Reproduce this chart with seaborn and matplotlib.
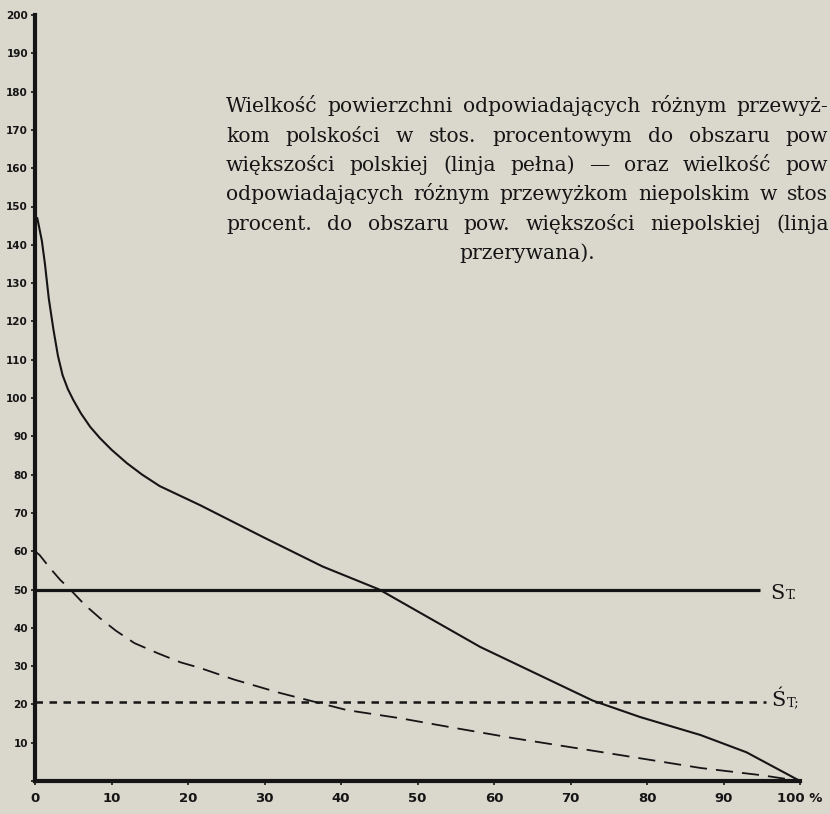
import matplotlib
matplotlib.use("Agg")
import matplotlib.pyplot as plt
import pandas as pd
import seaborn as sns

# ---------------- data ----------------
polish_x = [0.3, 0.9, 1.3, 1.8, 2.4, 3.0, 3.6, 4.3, 5.0, 6.0, 7.2, 8.5, 10, 12, 14, 16.3,
            21.6, 30, 37.6, 45, 58.2, 72.9, 79.1, 87, 93, 100]
polish_y = [147, 141, 135, 126, 118, 111, 106, 102.3, 99.5, 96, 92.5, 89.5, 86.5, 83, 80, 77,
            72, 63.5, 56, 50, 35, 21, 16.7, 12, 7.5, 0]

nonpolish_x = [0, 0, 0.6, 2, 3.3, 4.6, 6.5, 8.5, 10.6, 13, 16, 19, 21.6, 26, 32, 40.8, 47.7,
               55, 62.5, 73.9, 87, 95, 100]
nonpolish_y = [64, 60, 59, 55.5, 52.5, 50, 46, 42.5, 39.2, 36, 33.4, 31, 29.5, 26.5, 23, 18.5,
               16.4, 13.8, 11.2, 7.6, 3.4, 1.5, 0]

x_ticks = [0, 10, 20, 30, 40, 50, 60, 70, 80, 90, 100]
x_tick_labels = ["0", "10", "20", "30", "40", "50", "60", "70", "80", "90", "100 %"]
y_ticks = [0, 10, 20, 30, 40, 50, 60, 70, 80, 90, 100, 110, 120, 130, 140, 150, 160, 170, 180, 190, 200]
y_tick_labels = ["", "10", "20", "30", "40", "50", "60", "70", "80", "90", "100", "110", "120",
                 "130", "140", "150", "160", "170", "180", "190", "200"]

st_level = 50
st_end = 94.8
st_label = ("S", "T.")
st_prime_level = 20.6
st_prime_end = 95.6
st_prime_label = ("Ś", "T;")

# caption as visible in the reference (cut at the right page edge)
title_lines = [
    "Wielkość powierzchni odpowiadających różnym przewyż-",
    "kom polskości w stos. procentowym do obszaru pow",
    "większości polskiej (linja pełna) — oraz wielkość pow",
    "odpowiadających różnym przewyżkom niepolskim w stos",
    "procent. do obszaru pow. większości niepolskiej (linja",
    "przerywana).",
]

# ---------------- style ----------------
W, H = 830, 814
PAPER = "#dad7cd"
INK = "#151515"

sns.set_theme(style="white")
plt.rcParams["font.family"] = ["DejaVu Serif", "DejaVu Sans"]

fig = plt.figure(figsize=(W / 100, H / 100), dpi=100, facecolor=PAPER)
ax = fig.add_axes([35 / W, 33 / H, 765 / W, 766 / H])
ax.set_facecolor(PAPER)

df_pol = pd.DataFrame({"x": polish_x, "y": polish_y})
df_non = pd.DataFrame({"x": nonpolish_x, "y": nonpolish_y})

sns.lineplot(data=df_pol, x="x", y="y", estimator=None, sort=False,
             color=INK, lw=1.5, ax=ax)
sns.lineplot(data=df_non, x="x", y="y", estimator=None, sort=False,
             color=INK, lw=1.3, linestyle=(6.0, (9.5, 5.0)), ax=ax)

ax.hlines(st_level, 0, st_end, color=INK, lw=2.3)
ax.hlines(st_prime_level, 0, st_prime_end, color=INK, lw=1.8,
          linestyles=[(0, (3.0, 2.6))])

ax.set_xlim(0, 100)
ax.set_ylim(0, 200)
ax.set_xlabel("")
ax.set_ylabel("")

for s in ["top", "right"]:
    ax.spines[s].set_visible(False)
for s in ["left", "bottom"]:
    ax.spines[s].set_linewidth(3.0)
    ax.spines[s].set_color(INK)

ax.set_xticks(x_ticks)
ax.set_xticklabels(x_tick_labels, fontfamily="DejaVu Sans", fontweight="bold",
                   fontsize=9.5, color=INK)
ax.set_yticks(y_ticks)
ax.set_yticklabels(y_tick_labels, fontfamily="DejaVu Sans", fontweight="bold",
                   fontsize=7.5, color=INK)
ax.tick_params(axis="y", direction="out", length=3, width=1.2, color=INK, pad=2, left=True)
ax.tick_params(axis="x", direction="out", length=3, width=1.2, color=INK, pad=5, bottom=True)

# St labels (baseline aligned)
ax.text(st_end + 1.3, st_level - 2.6, st_label[0], fontsize=15, color=INK,
        va="baseline", ha="left", clip_on=False)
ax.text(st_end + 3.4, st_level - 2.6, st_label[1], fontsize=9.5, color=INK,
        va="baseline", ha="left", clip_on=False)
ax.text(st_prime_end + 0.6, st_prime_level - 1.0, st_prime_label[0], fontsize=15, color=INK,
        va="baseline", ha="left", clip_on=False)
ax.text(st_prime_end + 2.7, st_prime_level - 1.0, st_prime_label[1], fontsize=9.5, color=INK,
        va="baseline", ha="left", clip_on=False)

# ---------------- justified caption ----------------
fig.canvas.draw()
renderer = fig.canvas.get_renderer()

left_px = 226
right_px = [828, 828, 828, 828, 829]
baselines = [112, 141.5, 171, 200.5, 230, 259]
FS = 14.6

for i, line in enumerate(title_lines):
    y = 1 - baselines[i] / H
    if i == len(title_lines) - 1:
        fig.text(527 / W, y, line, fontsize=FS, color=INK, ha="center", va="baseline")
        continue
    words = line.split(" ")
    texts = [fig.text(0, y, w, fontsize=FS, color=INK, ha="left", va="baseline") for w in words]
    widths = [t.get_window_extent(renderer).width for t in texts]
    gap = (right_px[i] - left_px - sum(widths)) / (len(words) - 1)
    x = left_px
    for t, w in zip(texts, widths):
        t.set_x(x / W)
        x += w + gap

fig.savefig("out.png", dpi=100, facecolor=PAPER)
